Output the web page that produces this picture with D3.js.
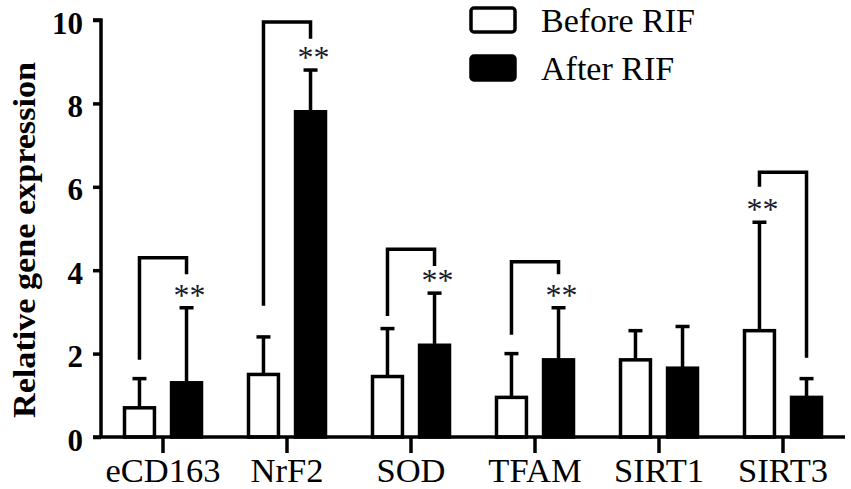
<!DOCTYPE html>
<html>
<head>
<meta charset="utf-8">
<script src="https://cdn.jsdelivr.net/npm/d3@7"></script>
<style>
  body { margin: 0; background: #fff; }
  text { font-family: "Liberation Serif", "Times New Roman", serif; }
</style>
</head>
<body>
<script>
// data
var genes = ["eCD163", "NrF2", "SOD", "TFAM", "SIRT1", "SIRT3"];
var series = ["Before RIF", "After RIF"];
var beforeMean = [0.7, 1.5, 1.45, 0.95, 1.85, 2.55];
var beforeErr = [1.4, 2.4, 2.6, 2.0, 2.55, 5.15];
var afterMean = [1.3, 7.8, 2.2, 1.85, 1.65, 0.95];
var afterErr = [3.1, 8.8, 3.45, 3.1, 2.65, 1.4];
var yTicks = [0, 2, 4, 6, 8, 10];

// significance brackets: [left leg bottom, top, right leg bottom], null = none
var brackets = [[1.85, 4.3, 3.9], [3.15, 9.95, 9.55], [2.9, 4.5, 4.1], [2.45, 4.2, 3.9], null, [6.0, 6.35, 1.9]];
var starOn = [1, 1, 1, 1, -1, 0]; // index into series, -1 none

var svgWidth = 851;
var svgHeight = 489;

var svg = d3.select("body").append("svg")
    .attr("width", svgWidth)
    .attr("height", svgHeight);

var x0 = d3.scaleBand()
    .domain(genes)
    .range([101, 845]);

var x1 = d3.scaleBand()
    .domain(series)
    .range([22, 102])
    .paddingInner(0.3);

var y = d3.scaleLinear()
    .domain([0, 10])
    .range([437, 20]);

var rows = genes.map((g, i) => ({
    gene: g,
    i: i,
    vals: [
        { s: series[0], mean: beforeMean[i], err: beforeErr[i] },
        { s: series[1], mean: afterMean[i], err: afterErr[i] }
    ]
}));

function cx(i, s) {
    return x0(genes[i]) + x1(series[s]) + x1.bandwidth() / 2;
}

// bars
var groups = svg.selectAll("g.gene")
    .data(rows)
    .enter()
    .append("g")
    .attr("class", "gene")
    .attr("transform", d => `translate(${x0(d.gene)},0)`);

groups.selectAll("line.err")
    .data(d => d.vals)
    .enter()
    .append("line")
    .attr("x1", d => x1(d.s) + x1.bandwidth() / 2)
    .attr("x2", d => x1(d.s) + x1.bandwidth() / 2)
    .attr("y1", d => y(d.mean))
    .attr("y2", d => y(d.err))
    .attr("stroke", "#000")
    .attr("stroke-width", 3.5);

groups.selectAll("line.cap")
    .data(d => d.vals)
    .enter()
    .append("line")
    .attr("x1", d => x1(d.s) + x1.bandwidth() / 2 - 7)
    .attr("x2", d => x1(d.s) + x1.bandwidth() / 2 + 7)
    .attr("y1", d => y(d.err))
    .attr("y2", d => y(d.err))
    .attr("stroke", "#000")
    .attr("stroke-width", 3.5);

groups.selectAll("rect")
    .data(d => d.vals)
    .enter()
    .append("rect")
    .attr("x", d => x1(d.s) + 1.5)
    .attr("y", d => y(d.mean))
    .attr("width", x1.bandwidth() - 3)
    .attr("height", d => y(0) - y(d.mean))
    .attr("fill", d => d.s == series[0] ? "#fff" : "#000")
    .attr("stroke", "#000")
    .attr("stroke-width", 3.5);

// brackets
brackets.forEach((b, i) => {
    if (!b) return;
    var xl = cx(i, 0), xr = cx(i, 1);
    svg.append("path")
        .attr("d", `M${xl},${y(b[0])}V${y(b[1])}H${xr}V${y(b[2])}`)
        .attr("fill", "none")
        .attr("stroke", "#000")
        .attr("stroke-width", 3.5);
});

// stars
starOn.forEach((s, i) => {
    if (s < 0) return;
    var top = s == 0 ? beforeErr[i] : afterErr[i];
    svg.append("text")
        .attr("x", cx(i, s) + 3)
        .attr("y", y(top) - 2)
        .attr("text-anchor", "middle")
        .attr("font-size", 32)
        .attr("fill", "#1a1a2a")
        .text("**");
});

// axes
var yAxis = svg.append("g")
    .attr("transform", "translate(101,0)")
    .call(d3.axisLeft(y).tickValues(yTicks).tickSize(8).tickPadding(10));

var xAxis = svg.append("g")
    .attr("transform", `translate(0,${y(0)})`)
    .call(d3.axisBottom(x0).tickSize(16).tickPadding(6).tickSizeOuter(0));

[yAxis, xAxis].forEach(a => {
    a.select(".domain").attr("stroke-width", 3.5);
    a.selectAll(".tick line").attr("stroke-width", 3.5);
});
yAxis.select(".domain").attr("d", "M-8,20H0V437");
xAxis.select(".domain").attr("d", "M93,0H845");

yAxis.selectAll(".tick text")
    .attr("font-family", "Liberation Serif")
    .attr("font-weight", "bold")
    .attr("font-size", 31)
    .attr("dy", "0.42em")
    .attr("fill", "#000");

xAxis.selectAll(".tick text")
    .attr("font-family", "Liberation Serif")
    .attr("font-size", 34.5)
    .attr("dy", "0.68em")
    .attr("fill", "#000");

svg.append("text")
    .attr("transform", "translate(35,240) rotate(-90)")
    .attr("text-anchor", "middle")
    .attr("font-weight", "bold")
    .attr("font-size", 31)
    .attr("textLength", 356)
    .attr("lengthAdjust", "spacingAndGlyphs")
    .text("Relative gene expression");

// legend
var legend = svg.selectAll("g.legend")
    .data(series)
    .enter()
    .append("g")
    .attr("class", "legend")
    .attr("transform", (d, i) => `translate(471,${8 + i * 48})`);

legend.append("rect")
    .attr("width", 44)
    .attr("height", 24)
    .attr("rx", 3)
    .attr("fill", (d, i) => i == 0 ? "#fff" : "#000")
    .attr("stroke", "#000")
    .attr("stroke-width", 3.5);

legend.append("text")
    .attr("x", 70)
    .attr("y", 24)
    .attr("font-size", 34)
    .text(d => d);
</script>
</body>
</html>
